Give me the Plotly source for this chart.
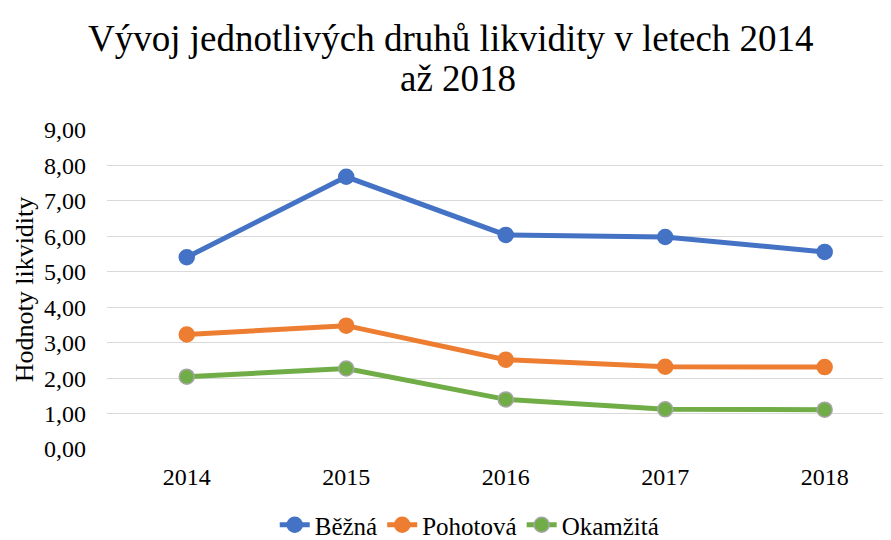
import plotly.graph_objects as go

# ================= DATA =================
YEARS = ["2014", "2015", "2016", "2017", "2018"]
BEZNA = [5.41, 7.68, 6.04, 5.98, 5.56]
POHOTOVA = [3.23, 3.48, 2.52, 2.32, 2.31]
OKAMZITA = [2.04, 2.27, 1.40, 1.12, 1.11]
Y_TICKS = [0, 1, 2, 3, 4, 5, 6, 7, 8, 9]
TITLE_1 = "Vývoj jednotlivých druhů likvidity v letech 2014"
TITLE_2 = "až 2018"
# ========================================

FONT = "Liberation Serif"

series = [
    ("Běžná", BEZNA, "#4472C4", "#4472C4"),
    ("Pohotová", POHOTOVA, "#ED7D31", "#ED7D31"),
    ("Okamžitá", OKAMZITA, "#70AD47", "#A5A5A5"),
]

fig = go.Figure()
for name, vals, color, edge in series:
    fig.add_trace(go.Scatter(
        x=list(range(len(YEARS))),
        y=vals,
        name=name,
        mode="lines+markers",
        line=dict(color=color, width=5),
        marker=dict(size=15, color=color, line=dict(color=edge, width=1.5)),
    ))

# second title line as an annotation so the line spacing can be tighter
fig.add_annotation(
    text=TITLE_2, xref="paper", yref="paper",
    x=0.443, xanchor="center", y=1.162, yanchor="middle",
    showarrow=False, font=dict(family=FONT, size=37, color="#000000"),
)

# page body has an 8px margin, so the figure is shifted 8px right/down
fig.update_layout(
    width=891,
    height=540,
    paper_bgcolor="white",
    plot_bgcolor="white",
    separators=",.",
    font=dict(family=FONT, size=24, color="#000000"),
    title=dict(
        text=TITLE_1,
        x=0.497, xanchor="center", y=0.944, yanchor="middle",
        font=dict(family=FONT, size=37, color="#000000"),
    ),
    margin=dict(l=99, r=0, t=122, b=97),
    showlegend=True,
    legend=dict(
        orientation="h",
        x=0.458, xanchor="center",
        y=-0.24, yanchor="middle",
        font=dict(family=FONT, size=25),
        traceorder="normal",
    ),
    xaxis=dict(
        tickmode="array",
        tickvals=list(range(len(YEARS))),
        ticktext=YEARS,
        range=[-0.5, 4.466],
        showgrid=False,
        zeroline=False,
        showline=False,
        ticks="",
        ticklabelstandoff=11,
        tickfont=dict(family=FONT, size=24),
    ),
    yaxis=dict(
        range=[0, 9],
        tickvals=Y_TICKS,
        tickformat=".2f",
        showgrid=True,
        gridcolor="#D9D9D9",
        gridwidth=1.3,
        zeroline=False,
        showline=False,
        ticks="",
        ticklabelstandoff=20,
        tickfont=dict(family=FONT, size=24),
        title=dict(text="Hodnoty likvidity", font=dict(family=FONT, size=26), standoff=2),
    ),
)

fig.write_html("out.html")
